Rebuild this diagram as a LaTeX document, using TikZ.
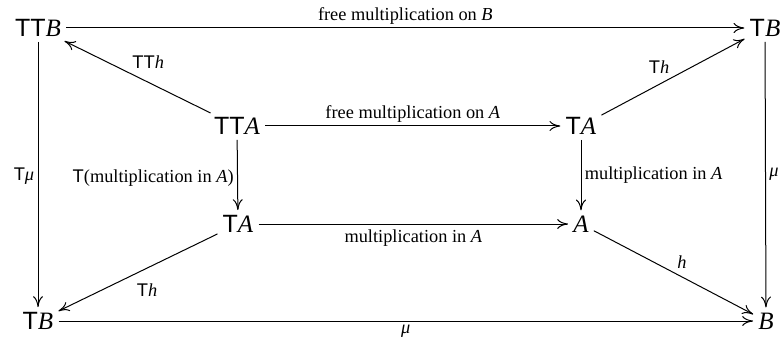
\documentclass[tikz,border=0pt]{standalone}
\usepackage{fontspec}
\usetikzlibrary{arrows.meta}
\setmainfont{Liberation Serif}
\newfontfamily\tsans{Liberation Sans}
\newcommand{\Tm}{{\tsans T}}
\newcommand{\vi}[1]{\textit{#1}}
\begin{document}
\begin{tikzpicture}[x=0.6pt,y=-0.6pt,
  obj/.style={font=\fontsize{15}{17}\selectfont, inner sep=2pt},
  lab/.style={font=\fontsize{11}{13}\selectfont, inner sep=2pt},
  arr/.style={-{To[length=6.5pt,width=6pt]}, line width=0.6pt, shorten >=1pt, shorten <=1pt}]
\useasboundingbox (0,0) rectangle (783,344);
\node[obj] (TTB) at (38,28) {\Tm\Tm\vi{B}};
\node[obj] (TBr) at (765,28) {\Tm\vi{B}};
\node[obj] (TTA) at (237,126) {\Tm\Tm\vi{A}};
\node[obj] (TAr) at (581,126) {\Tm\vi{A}};
\node[obj] (TAl) at (238,224) {\Tm\vi{A}};
\node[obj] (A) at (581,224) {\vi{A}};
\node[obj] (TBl) at (38,321) {\Tm\vi{B}};
\node[obj] (B) at (766,321) {\vi{B}};

\draw[arr] (TTB) -- node[lab, above] {free multiplication on \vi{B}} (TBr);
\draw[arr] (TTA) -- node[lab, above right, pos=0.56] {\Tm\Tm\vi{h}} (TTB);
\draw[arr] (TAr) -- node[lab, above left, pos=0.5] {\Tm\vi{h}} (TBr);
\draw[arr] (TTA) -- node[lab, above] {free multiplication on \vi{A}} (TAr);
\draw[arr] (TTA) -- node[lab, left, yshift=-2pt] {\Tm(multiplication in \vi{A})} (TAl);
\draw[arr] (TAr) -- node[lab, right] {multiplication in \vi{A}} (A);
\draw[arr] (TAl) -- node[lab, below, yshift=-1pt] {multiplication in \vi{A}} (A);
\draw[arr] (TAl) -- node[lab, below right, pos=0.53, yshift=-3pt] {\Tm\vi{h}} (TBl);
\draw[arr] (A) -- node[lab, above right, pos=0.5] {\vi{h}} (B);
\draw[arr] (TTB) -- node[lab, left, yshift=-1pt] {\Tm\vi{μ}} (TBl);
\draw[arr] (TBr) -- node[lab, right] {\vi{μ}} (B);
\draw[arr] (TBl) -- node[lab, below] {\vi{μ}} (B);
\end{tikzpicture}
\end{document}
